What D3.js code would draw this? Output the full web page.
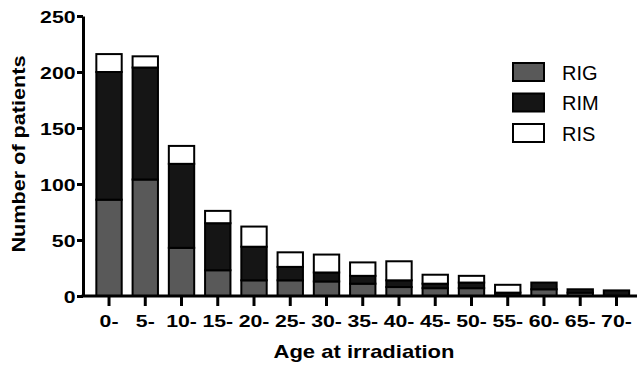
<!DOCTYPE html>
<html>
<head>
<meta charset="utf-8">
<script src="https://cdn.jsdelivr.net/npm/d3@7"></script>
<style>
    html, body { margin: 0; padding: 0; background: white; }
    svg { display: block; font-family: "Liberation Sans", Arial, sans-serif; }
</style>
</head>
<body>
<svg id="chart" width="639" height="365"></svg>
<script>
const ageGroups = ['0-', '5-', '10-', '15-', '20-', '25-', '30-', '35-', '40-', '45-', '50-', '55-', '60-', '65-', '70-']
const rigValues = [86, 104, 43, 23, 14, 14, 13, 11, 8, 7, 7, 0, 6, 3, 0]
const rimValues = [114, 100, 75, 42, 30, 12, 8, 7, 6, 4, 5, 3, 6, 3, 5]
const risValues = [16, 10, 16, 11, 18, 13, 16, 12, 17, 8, 6, 7, 0, 0, 0]
const seriesNames = ['RIG', 'RIM', 'RIS']
const seriesColors = ['#595959', '#151515', '#ffffff']
const yTicks = [0, 50, 100, 150, 200, 250]

const axisX = 83
const axisY = 296
const textScale = 1.25

const rows = ageGroups.map((g, i) => ({ group: g, RIG: rigValues[i], RIM: rimValues[i], RIS: risValues[i] }))
const stacked = d3.stack().keys(seriesNames)(rows)

const svg = d3.select('#chart')

const x = d3.scaleBand()
    .domain(ageGroups)
    .range([90.9, 634.6])
    .paddingInner(0.3)
    .paddingOuter(0.15)

const y = d3.scaleLinear().domain([0, 250]).range([axisY, 16])

const color = d3.scaleOrdinal(seriesNames, seriesColors)

// bars
svg.append('g')
    .selectAll('g')
    .data(stacked)
    .join('g')
    .attr('fill', d => color(d.key))
    .selectAll('rect')
    .data(d => d.filter(s => s[1] > s[0]))
    .join('rect')
    .attr('x', d => x(d.data.group))
    .attr('width', x.bandwidth())
    .attr('y', d => y(d[1]))
    .attr('height', d => y(d[0]) - y(d[1]))
    .attr('stroke', '#000')
    .attr('stroke-width', 2)

// y axis
const yAxis = svg.append('g')
    .attr('transform', `translate(${axisX},0)`)
    .call(d3.axisLeft(y).tickValues(yTicks).tickSize(6).tickSizeOuter(0))
yAxis.select('.domain').attr('stroke-width', 3)
yAxis.selectAll('.tick line').attr('stroke-width', 3)
yAxis.selectAll('.tick text')
    .attr('x', -7.5 / textScale)
    .attr('dy', '0.36em')
    .attr('transform', `scale(${textScale},1)`)
    .attr('font-size', 17)
    .attr('font-weight', 'bold')
    .attr('fill', '#000')

// x axis
const xAxis = svg.append('g')
    .attr('transform', `translate(0,${axisY})`)
    .call(d3.axisBottom(x).tickSize(10).tickSizeOuter(0))
xAxis.select('.domain').remove()
xAxis.selectAll('.tick line').attr('stroke-width', 3)
xAxis.selectAll('.tick text')
    .attr('y', 31)
    .attr('dy', 0)
    .attr('transform', `scale(${textScale},1)`)
    .attr('font-size', 17)
    .attr('font-weight', 'bold')
    .attr('fill', '#000')
xAxis.append('line')
    .attr('x1', axisX - 1.5)
    .attr('x2', 637)
    .attr('stroke', '#000')
    .attr('stroke-width', 3)

// axis titles
svg.append('text')
    .attr('transform', `translate(364,358) scale(1.19,1)`)
    .attr('text-anchor', 'middle')
    .attr('font-size', 18.5)
    .attr('font-weight', 'bold')
    .text('Age at irradiation')

svg.append('text')
    .attr('transform', `translate(25,154) rotate(-90) scale(1.17,1)`)
    .attr('text-anchor', 'middle')
    .attr('font-size', 18.5)
    .attr('font-weight', 'bold')
    .text('Number of patients')

// legend
const legend = svg.append('g')
    .attr('transform', 'translate(513,63)')
    .selectAll('g')
    .data(seriesNames)
    .join('g')
    .attr('transform', (_, i) => `translate(0,${i * 30.5})`)

legend.append('rect')
    .attr('width', 31)
    .attr('height', 18)
    .attr('fill', d => color(d))
    .attr('stroke', '#000')
    .attr('stroke-width', 2)

legend.append('text')
    .attr('x', 49)
    .attr('y', 16.5)
    .attr('font-size', 20)
    .text(d => d)
</script>
</body>
</html>
